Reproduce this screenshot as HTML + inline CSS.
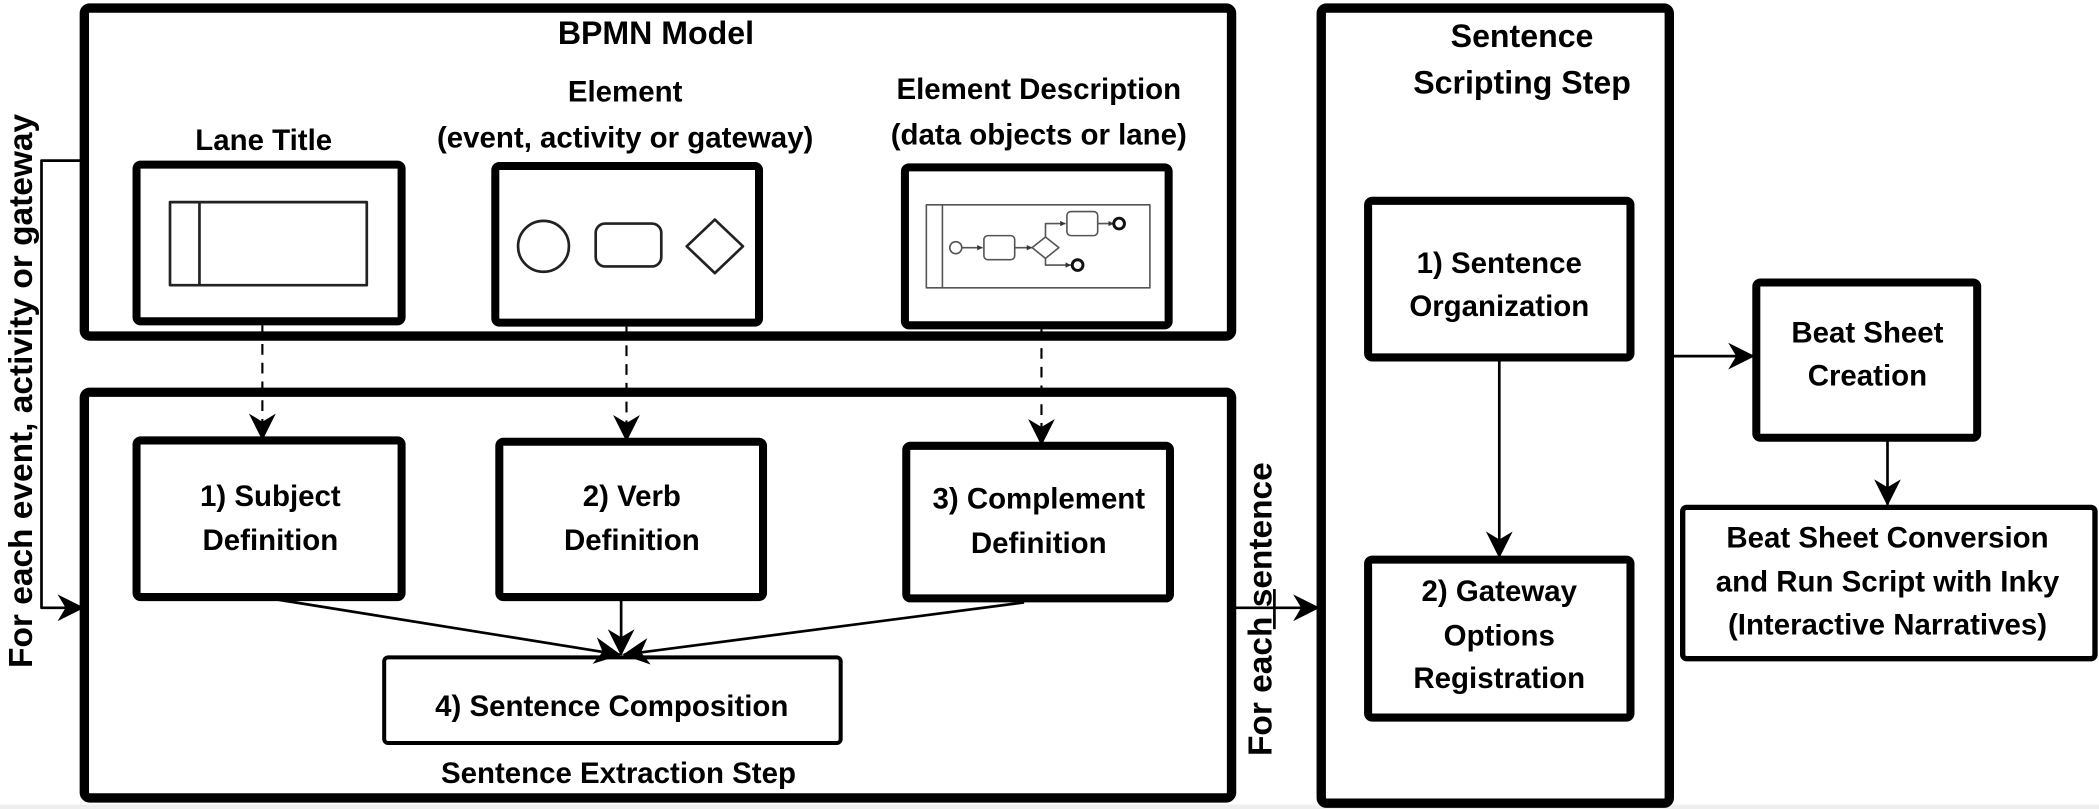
<!DOCTYPE html>
<html><head><meta charset="utf-8"><style>
html,body{margin:0;padding:0;background:#fff}
svg{display:block}
text{font-family:"Liberation Sans",Arial,sans-serif;font-weight:bold;fill:#000;text-anchor:middle}
</style></head><body>
<svg width="2099" height="809" viewBox="0 0 1568 604.3" preserveAspectRatio="none" xmlns="http://www.w3.org/2000/svg">
<defs>
<marker id="ah" viewBox="0 0 20 20" refX="19" refY="10" markerWidth="20" markerHeight="20" markerUnits="userSpaceOnUse" orient="auto">
<path d="M0,0 L20,10 L0,20 L6,10 Z" fill="#000"/></marker>
<marker id="sm" viewBox="0 0 10 10" refX="10" refY="5" markerWidth="4" markerHeight="4" markerUnits="userSpaceOnUse" orient="auto">
<path d="M0,0 L10,5 L0,10 Z" fill="#333"/></marker>
</defs>
<rect x="0" y="601" width="1568" height="4" fill="#eee"/>
<g fill="none" stroke="#000" stroke-linejoin="round">
<rect x="63" y="6" width="857" height="245" rx="4" stroke-width="7"/>
<rect x="63" y="293" width="857" height="303" rx="4" stroke-width="7"/>
<rect x="987" y="6" width="260" height="594" rx="4" stroke-width="7"/>
<rect x="102" y="123" width="198" height="117" rx="3" stroke-width="6"/>
<rect x="370" y="124" width="197" height="117" rx="3" stroke-width="6"/>
<rect x="676" y="125" width="197" height="118" rx="3" stroke-width="6"/>
<rect x="102" y="329" width="198" height="117" rx="3" stroke-width="6"/>
<rect x="373" y="330" width="197" height="116" rx="3" stroke-width="6"/>
<rect x="677" y="333" width="197" height="114" rx="3" stroke-width="6"/>
<rect x="287" y="491" width="341" height="64" rx="3" stroke-width="3"/>
<rect x="1022" y="150" width="196" height="117" rx="3" stroke-width="6"/>
<rect x="1022" y="418" width="196" height="118" rx="3" stroke-width="6"/>
<rect x="1312" y="211" width="165" height="116" rx="3" stroke-width="6"/>
<rect x="1257" y="379" width="308" height="113" rx="3" stroke-width="4"/>
<rect x="127" y="151" width="147" height="62" stroke-width="2" stroke="#222"/>
<line x1="149" y1="151" x2="149" y2="213" stroke-width="2" stroke="#222"/>
<circle cx="406" cy="184" r="19" stroke-width="2" stroke="#222"/>
<rect x="445" y="167" width="49" height="32" rx="7" stroke-width="2" stroke="#222"/>
<path d="M534,164 L555,184 L534,204 L513,184 Z" stroke-width="2" stroke="#222"/>
<g stroke="#555" stroke-width="1.2">
<rect x="692" y="153" width="167" height="62"/>
<line x1="704" y1="153" x2="704" y2="215"/>
<circle cx="714" cy="185" r="4.5"/>
<line x1="718" y1="185" x2="734" y2="185" marker-end="url(#sm)"/>
<rect x="735" y="176" width="23" height="18" rx="3"/>
<line x1="758" y1="185" x2="771" y2="185" marker-end="url(#sm)"/>
<path d="M781,177 L791,185 L781,193 L771,185 Z"/>
<path d="M781,177 L781,167 L796,167" marker-end="url(#sm)"/>
<rect x="797" y="158" width="23" height="18" rx="3"/>
<line x1="820" y1="167" x2="832" y2="167" marker-end="url(#sm)"/>
<circle cx="836" cy="167" r="4" stroke-width="2.2" stroke="#111"/>
<path d="M781,193 L781,198 L800,198" marker-end="url(#sm)"/>
<circle cx="805" cy="198" r="4" stroke-width="2.2" stroke="#111"/>
</g>
<g stroke-width="1.6" stroke-dasharray="8,6">
<line x1="196" y1="243" x2="196" y2="328" marker-end="url(#ah)"/>
<line x1="468" y1="244" x2="468" y2="329" marker-end="url(#ah)"/>
<line x1="778" y1="246" x2="778" y2="332" marker-end="url(#ah)"/>
</g>
<g stroke-width="2">
<line x1="208" y1="448" x2="463" y2="489" marker-end="url(#ah)"/>
<line x1="464" y1="448" x2="464" y2="489" marker-end="url(#ah)"/>
<line x1="765" y1="450" x2="466" y2="489" marker-end="url(#ah)"/>
<path d="M61,120 L31,120 L31,454 L62,454" marker-end="url(#ah)"/>
<line x1="923" y1="454" x2="985" y2="454" marker-end="url(#ah)"/>
<line x1="952" y1="440" x2="952" y2="470"/>
<line x1="1120" y1="269" x2="1120" y2="416" marker-end="url(#ah)"/>
<line x1="1250" y1="266" x2="1310" y2="266" marker-end="url(#ah)"/>
<line x1="1410" y1="329" x2="1410" y2="377" marker-end="url(#ah)"/>
</g>
</g>
<g font-size="22">
<text x="490" y="33" font-size="24">BPMN Model</text>
<text x="197" y="112">Lane Title</text>
<text x="467" y="76">Element</text>
<text x="467" y="110">(event, activity or gateway)</text>
<text x="776" y="74">Element Description</text>
<text x="776" y="108">(data objects or lane)</text>
<text x="202" y="378">1) Subject</text>
<text x="202" y="411">Definition</text>
<text x="472" y="378">2) Verb</text>
<text x="472" y="411">Definition</text>
<text x="776" y="380">3) Complement</text>
<text x="776" y="413">Definition</text>
<text x="457" y="535">4) Sentence Composition</text>
<text x="462" y="585">Sentence Extraction Step</text>
<text x="1137" y="35" font-size="24">Sentence</text>
<text x="1137" y="70" font-size="24">Scripting Step</text>
<text x="1120" y="204">1) Sentence</text>
<text x="1120" y="236">Organization</text>
<text x="1120" y="449">2) Gateway</text>
<text x="1120" y="482">Options</text>
<text x="1120" y="514">Registration</text>
<text x="1395" y="256">Beat Sheet</text>
<text x="1395" y="288">Creation</text>
<text x="1410" y="409">Beat Sheet Conversion</text>
<text x="1410" y="442">and Run Script with Inky</text>
<text x="1410" y="474">(Interactive Narratives)</text>
<text transform="translate(24,292) rotate(-90)" font-size="25">For each event, activity or gateway</text>
<text transform="translate(950,455) rotate(-90)" font-size="25">For each sentence</text>
</g>
</svg>
</body></html>
